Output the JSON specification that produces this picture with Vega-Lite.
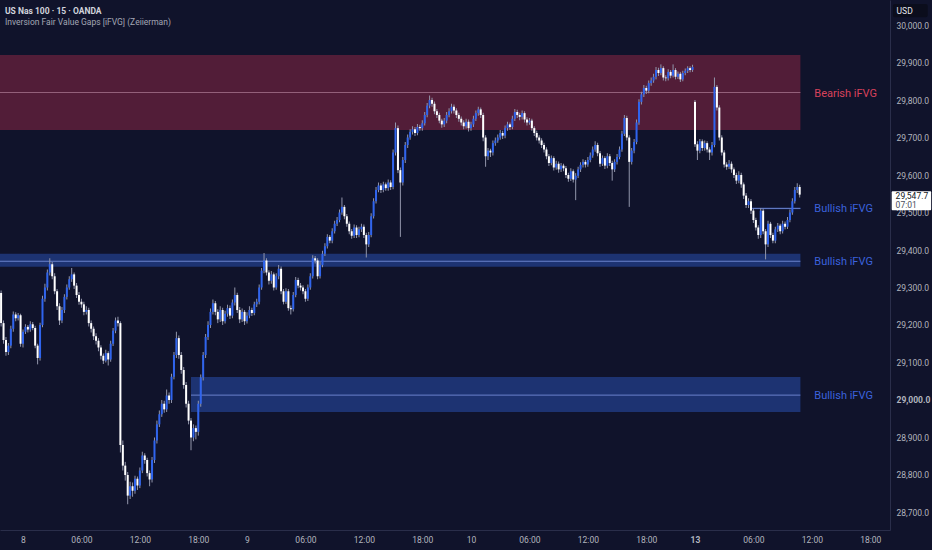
{
  "$schema": "https://vega.github.io/schema/vega-lite/v6.json",
  "description": "US Nas 100, 15 minute candles with inversion fair value gap zones.",
  "width": 890,
  "height": 530,
  "autosize": {"type": "none"},
  "padding": {"left": 0, "top": 0, "right": 42, "bottom": 20},
  "background": "#10132b",
  "config": {
    "view": {"stroke": null},
    "font": "Roboto",
    "axis": {
      "grid": false,
      "ticks": false,
      "domainColor": "#2a2e4a",
      "labelColor": "#b2b5be",
      "labelFontSize": 8.5,
      "title": null
    }
  },
  "datasets": {
    "zones": [
      {"zone": "Bearish iFVG", "kind": "bear", "start": -9.5, "end": 319.3, "top": 29920, "bottom": 29720, "mid": 29820},
      {"zone": "Bullish iFVG", "kind": "bull", "start": 299.5, "end": 319.3, "top": 29513, "bottom": 29509, "mid": 29511},
      {"zone": "Bullish iFVG", "kind": "bull", "start": -9.5, "end": 319.3, "top": 29390, "bottom": 29355, "mid": 29370},
      {"zone": "Bullish iFVG", "kind": "bull", "start": 69, "end": 319.3, "top": 29061, "bottom": 28968, "mid": 29013}
    ],
    "candles": [
      {"n": -9, "o": 29285, "h": 29292, "l": 29196, "c": 29205},
      {"n": -8, "o": 29205, "h": 29212, "l": 29150, "c": 29160},
      {"n": -7, "o": 29160, "h": 29168, "l": 29118, "c": 29128},
      {"n": -6, "o": 29128, "h": 29152, "l": 29120, "c": 29145},
      {"n": -5, "o": 29145, "h": 29198, "l": 29138, "c": 29190},
      {"n": -4, "o": 29190, "h": 29236, "l": 29182, "c": 29228},
      {"n": -3, "o": 29228, "h": 29234, "l": 29210, "c": 29218},
      {"n": -2, "o": 29218, "h": 29232, "l": 29212, "c": 29226},
      {"n": -1, "o": 29226, "h": 29230, "l": 29142, "c": 29150},
      {"n": 0, "o": 29150, "h": 29188, "l": 29140, "c": 29182},
      {"n": 1, "o": 29182, "h": 29202, "l": 29176, "c": 29195},
      {"n": 2, "o": 29195, "h": 29200, "l": 29180, "c": 29188},
      {"n": 3, "o": 29188, "h": 29210, "l": 29182, "c": 29202},
      {"n": 4, "o": 29202, "h": 29208, "l": 29186, "c": 29192},
      {"n": 5, "o": 29192, "h": 29198, "l": 29138, "c": 29145},
      {"n": 6, "o": 29145, "h": 29150, "l": 29095, "c": 29112},
      {"n": 7, "o": 29112, "h": 29206, "l": 29105, "c": 29200},
      {"n": 8, "o": 29200, "h": 29278, "l": 29194, "c": 29270},
      {"n": 9, "o": 29270, "h": 29310, "l": 29262, "c": 29300},
      {"n": 10, "o": 29300, "h": 29348, "l": 29292, "c": 29340},
      {"n": 11, "o": 29340, "h": 29378, "l": 29332, "c": 29362},
      {"n": 12, "o": 29362, "h": 29368, "l": 29322, "c": 29330},
      {"n": 13, "o": 29330, "h": 29338, "l": 29282, "c": 29290},
      {"n": 14, "o": 29290, "h": 29296, "l": 29240, "c": 29250},
      {"n": 15, "o": 29250, "h": 29258, "l": 29200, "c": 29212},
      {"n": 16, "o": 29212, "h": 29248, "l": 29205, "c": 29240},
      {"n": 17, "o": 29240, "h": 29282, "l": 29232, "c": 29275},
      {"n": 18, "o": 29275, "h": 29308, "l": 29268, "c": 29300},
      {"n": 19, "o": 29300, "h": 29330, "l": 29294, "c": 29322},
      {"n": 20, "o": 29322, "h": 29352, "l": 29315, "c": 29335},
      {"n": 21, "o": 29335, "h": 29340, "l": 29296, "c": 29305},
      {"n": 22, "o": 29305, "h": 29312, "l": 29272, "c": 29280},
      {"n": 23, "o": 29280, "h": 29288, "l": 29254, "c": 29262},
      {"n": 24, "o": 29262, "h": 29270, "l": 29246, "c": 29255},
      {"n": 25, "o": 29255, "h": 29262, "l": 29226, "c": 29235},
      {"n": 26, "o": 29235, "h": 29250, "l": 29228, "c": 29240},
      {"n": 27, "o": 29240, "h": 29246, "l": 29196, "c": 29205},
      {"n": 28, "o": 29205, "h": 29212, "l": 29180, "c": 29190},
      {"n": 29, "o": 29190, "h": 29196, "l": 29160, "c": 29170},
      {"n": 30, "o": 29170, "h": 29178, "l": 29148, "c": 29158},
      {"n": 31, "o": 29158, "h": 29165, "l": 29130, "c": 29140},
      {"n": 32, "o": 29140, "h": 29146, "l": 29108, "c": 29118},
      {"n": 33, "o": 29118, "h": 29124, "l": 29096, "c": 29105},
      {"n": 34, "o": 29105, "h": 29134, "l": 29100, "c": 29125},
      {"n": 35, "o": 29125, "h": 29130, "l": 29092, "c": 29108},
      {"n": 36, "o": 29108, "h": 29158, "l": 29102, "c": 29150},
      {"n": 37, "o": 29150, "h": 29192, "l": 29144, "c": 29185},
      {"n": 38, "o": 29185, "h": 29220, "l": 29178, "c": 29212},
      {"n": 39, "o": 29212, "h": 29222, "l": 29196, "c": 29205},
      {"n": 40, "o": 29205, "h": 29210, "l": 28860, "c": 28880},
      {"n": 41, "o": 28880, "h": 28892, "l": 28812, "c": 28825},
      {"n": 42, "o": 28825, "h": 28835, "l": 28785, "c": 28800},
      {"n": 43, "o": 28800, "h": 28808, "l": 28722, "c": 28745},
      {"n": 44, "o": 28745, "h": 28782, "l": 28736, "c": 28770},
      {"n": 45, "o": 28770, "h": 28780, "l": 28742, "c": 28758},
      {"n": 46, "o": 28758, "h": 28798, "l": 28750, "c": 28790},
      {"n": 47, "o": 28790, "h": 28796, "l": 28760, "c": 28772},
      {"n": 48, "o": 28772, "h": 28820, "l": 28765, "c": 28812},
      {"n": 49, "o": 28812, "h": 28862, "l": 28805, "c": 28852},
      {"n": 50, "o": 28852, "h": 28858, "l": 28830, "c": 28840},
      {"n": 51, "o": 28840, "h": 28846, "l": 28796, "c": 28805},
      {"n": 52, "o": 28805, "h": 28812, "l": 28770, "c": 28788},
      {"n": 53, "o": 28788, "h": 28848, "l": 28780, "c": 28840},
      {"n": 54, "o": 28840, "h": 28900, "l": 28832, "c": 28892},
      {"n": 55, "o": 28892, "h": 28945, "l": 28884, "c": 28935},
      {"n": 56, "o": 28935, "h": 28972, "l": 28928, "c": 28962},
      {"n": 57, "o": 28962, "h": 29000, "l": 28955, "c": 28990},
      {"n": 58, "o": 28990, "h": 28998, "l": 28966, "c": 28975},
      {"n": 59, "o": 28975, "h": 29028, "l": 28968, "c": 29012},
      {"n": 60, "o": 29012, "h": 29020, "l": 28990, "c": 29000},
      {"n": 61, "o": 29000, "h": 29070, "l": 28992, "c": 29062},
      {"n": 62, "o": 29062, "h": 29128, "l": 29055, "c": 29120},
      {"n": 63, "o": 29120, "h": 29182, "l": 29112, "c": 29165},
      {"n": 64, "o": 29165, "h": 29172, "l": 29110, "c": 29120},
      {"n": 65, "o": 29120, "h": 29128, "l": 29070, "c": 29080},
      {"n": 66, "o": 29080, "h": 29088, "l": 29030, "c": 29040},
      {"n": 67, "o": 29040, "h": 29048, "l": 28980, "c": 28990},
      {"n": 68, "o": 28990, "h": 28998, "l": 28935, "c": 28945},
      {"n": 69, "o": 28945, "h": 28952, "l": 28866, "c": 28900},
      {"n": 70, "o": 28900, "h": 28935, "l": 28890, "c": 28925},
      {"n": 71, "o": 28925, "h": 28932, "l": 28895, "c": 28915},
      {"n": 72, "o": 28915, "h": 28998, "l": 28905, "c": 28990},
      {"n": 73, "o": 28990, "h": 29068, "l": 28982, "c": 29060},
      {"n": 74, "o": 29060, "h": 29128, "l": 29052, "c": 29120},
      {"n": 75, "o": 29120, "h": 29176, "l": 29112, "c": 29168},
      {"n": 76, "o": 29168, "h": 29210, "l": 29160, "c": 29200},
      {"n": 77, "o": 29200, "h": 29244, "l": 29192, "c": 29235},
      {"n": 78, "o": 29235, "h": 29268, "l": 29228, "c": 29258},
      {"n": 79, "o": 29258, "h": 29264, "l": 29226, "c": 29235},
      {"n": 80, "o": 29235, "h": 29242, "l": 29205, "c": 29215},
      {"n": 81, "o": 29215, "h": 29250, "l": 29208, "c": 29240},
      {"n": 82, "o": 29240, "h": 29246, "l": 29200, "c": 29210},
      {"n": 83, "o": 29210, "h": 29238, "l": 29204, "c": 29230},
      {"n": 84, "o": 29230, "h": 29254, "l": 29222, "c": 29245},
      {"n": 85, "o": 29245, "h": 29252, "l": 29216, "c": 29225},
      {"n": 86, "o": 29225, "h": 29268, "l": 29218, "c": 29260},
      {"n": 87, "o": 29260, "h": 29300, "l": 29252, "c": 29280},
      {"n": 88, "o": 29280, "h": 29286, "l": 29232, "c": 29240},
      {"n": 89, "o": 29240, "h": 29248, "l": 29205, "c": 29215},
      {"n": 90, "o": 29215, "h": 29244, "l": 29208, "c": 29235},
      {"n": 91, "o": 29235, "h": 29240, "l": 29200, "c": 29210},
      {"n": 92, "o": 29210, "h": 29234, "l": 29204, "c": 29225},
      {"n": 93, "o": 29225, "h": 29250, "l": 29218, "c": 29240},
      {"n": 94, "o": 29240, "h": 29246, "l": 29224, "c": 29232},
      {"n": 95, "o": 29232, "h": 29262, "l": 29226, "c": 29255},
      {"n": 96, "o": 29255, "h": 29270, "l": 29248, "c": 29262},
      {"n": 97, "o": 29262, "h": 29308, "l": 29255, "c": 29300},
      {"n": 98, "o": 29300, "h": 29352, "l": 29294, "c": 29345},
      {"n": 99, "o": 29345, "h": 29392, "l": 29338, "c": 29372},
      {"n": 100, "o": 29372, "h": 29378, "l": 29332, "c": 29340},
      {"n": 101, "o": 29340, "h": 29346, "l": 29308, "c": 29318},
      {"n": 102, "o": 29318, "h": 29344, "l": 29310, "c": 29335},
      {"n": 103, "o": 29335, "h": 29340, "l": 29292, "c": 29300},
      {"n": 104, "o": 29300, "h": 29338, "l": 29294, "c": 29330},
      {"n": 105, "o": 29330, "h": 29360, "l": 29322, "c": 29350},
      {"n": 106, "o": 29350, "h": 29356, "l": 29282, "c": 29290},
      {"n": 107, "o": 29290, "h": 29296, "l": 29255, "c": 29262},
      {"n": 108, "o": 29262, "h": 29298, "l": 29256, "c": 29290},
      {"n": 109, "o": 29290, "h": 29296, "l": 29238, "c": 29245},
      {"n": 110, "o": 29245, "h": 29252, "l": 29228, "c": 29242},
      {"n": 111, "o": 29242, "h": 29288, "l": 29236, "c": 29280},
      {"n": 112, "o": 29280, "h": 29328, "l": 29274, "c": 29320},
      {"n": 113, "o": 29320, "h": 29326, "l": 29298, "c": 29305},
      {"n": 114, "o": 29305, "h": 29312, "l": 29292, "c": 29300},
      {"n": 115, "o": 29300, "h": 29306, "l": 29282, "c": 29290},
      {"n": 116, "o": 29290, "h": 29296, "l": 29262, "c": 29270},
      {"n": 117, "o": 29270, "h": 29308, "l": 29264, "c": 29300},
      {"n": 118, "o": 29300, "h": 29338, "l": 29294, "c": 29330},
      {"n": 119, "o": 29330, "h": 29386, "l": 29324, "c": 29378},
      {"n": 120, "o": 29378, "h": 29384, "l": 29364, "c": 29372},
      {"n": 121, "o": 29372, "h": 29378, "l": 29322, "c": 29330},
      {"n": 122, "o": 29330, "h": 29368, "l": 29324, "c": 29360},
      {"n": 123, "o": 29360, "h": 29398, "l": 29354, "c": 29390},
      {"n": 124, "o": 29390, "h": 29418, "l": 29384, "c": 29410},
      {"n": 125, "o": 29410, "h": 29442, "l": 29404, "c": 29435},
      {"n": 126, "o": 29435, "h": 29440, "l": 29418, "c": 29425},
      {"n": 127, "o": 29425, "h": 29458, "l": 29418, "c": 29450},
      {"n": 128, "o": 29450, "h": 29478, "l": 29444, "c": 29470},
      {"n": 129, "o": 29470, "h": 29488, "l": 29464, "c": 29480},
      {"n": 130, "o": 29480, "h": 29508, "l": 29474, "c": 29500},
      {"n": 131, "o": 29500, "h": 29540, "l": 29494, "c": 29515},
      {"n": 132, "o": 29515, "h": 29520, "l": 29482, "c": 29490},
      {"n": 133, "o": 29490, "h": 29496, "l": 29462, "c": 29470},
      {"n": 134, "o": 29470, "h": 29476, "l": 29442, "c": 29450},
      {"n": 135, "o": 29450, "h": 29456, "l": 29430, "c": 29438},
      {"n": 136, "o": 29438, "h": 29468, "l": 29432, "c": 29460},
      {"n": 137, "o": 29460, "h": 29466, "l": 29432, "c": 29440},
      {"n": 138, "o": 29440, "h": 29462, "l": 29434, "c": 29455},
      {"n": 139, "o": 29455, "h": 29470, "l": 29448, "c": 29462},
      {"n": 140, "o": 29462, "h": 29468, "l": 29432, "c": 29440},
      {"n": 141, "o": 29440, "h": 29446, "l": 29380, "c": 29415},
      {"n": 142, "o": 29415, "h": 29448, "l": 29408, "c": 29440},
      {"n": 143, "o": 29440, "h": 29498, "l": 29434, "c": 29490},
      {"n": 144, "o": 29490, "h": 29538, "l": 29484, "c": 29530},
      {"n": 145, "o": 29530, "h": 29568, "l": 29524, "c": 29560},
      {"n": 146, "o": 29560, "h": 29580, "l": 29554, "c": 29572},
      {"n": 147, "o": 29572, "h": 29578, "l": 29552, "c": 29560},
      {"n": 148, "o": 29560, "h": 29582, "l": 29554, "c": 29575},
      {"n": 149, "o": 29575, "h": 29580, "l": 29558, "c": 29565},
      {"n": 150, "o": 29565, "h": 29588, "l": 29558, "c": 29580},
      {"n": 151, "o": 29580, "h": 29586, "l": 29560, "c": 29568},
      {"n": 152, "o": 29568, "h": 29668, "l": 29562, "c": 29660},
      {"n": 153, "o": 29660, "h": 29740, "l": 29652, "c": 29725},
      {"n": 154, "o": 29725, "h": 29732, "l": 29605, "c": 29613},
      {"n": 155, "o": 29613, "h": 29620, "l": 29435, "c": 29580},
      {"n": 156, "o": 29580, "h": 29648, "l": 29572, "c": 29640},
      {"n": 157, "o": 29640, "h": 29688, "l": 29632, "c": 29680},
      {"n": 158, "o": 29680, "h": 29708, "l": 29672, "c": 29700},
      {"n": 159, "o": 29700, "h": 29722, "l": 29694, "c": 29715},
      {"n": 160, "o": 29715, "h": 29730, "l": 29708, "c": 29722},
      {"n": 161, "o": 29722, "h": 29728, "l": 29704, "c": 29712},
      {"n": 162, "o": 29712, "h": 29736, "l": 29706, "c": 29728},
      {"n": 163, "o": 29728, "h": 29734, "l": 29718, "c": 29725},
      {"n": 164, "o": 29725, "h": 29746, "l": 29718, "c": 29738},
      {"n": 165, "o": 29738, "h": 29768, "l": 29732, "c": 29760},
      {"n": 166, "o": 29760, "h": 29792, "l": 29754, "c": 29785},
      {"n": 167, "o": 29785, "h": 29812, "l": 29778, "c": 29800},
      {"n": 168, "o": 29800, "h": 29806, "l": 29782, "c": 29790},
      {"n": 169, "o": 29790, "h": 29796, "l": 29762, "c": 29770},
      {"n": 170, "o": 29770, "h": 29776, "l": 29752, "c": 29760},
      {"n": 171, "o": 29760, "h": 29766, "l": 29738, "c": 29745},
      {"n": 172, "o": 29745, "h": 29750, "l": 29726, "c": 29735},
      {"n": 173, "o": 29735, "h": 29752, "l": 29728, "c": 29745},
      {"n": 174, "o": 29745, "h": 29768, "l": 29738, "c": 29760},
      {"n": 175, "o": 29760, "h": 29778, "l": 29754, "c": 29770},
      {"n": 176, "o": 29770, "h": 29790, "l": 29764, "c": 29782},
      {"n": 177, "o": 29782, "h": 29788, "l": 29764, "c": 29772},
      {"n": 178, "o": 29772, "h": 29778, "l": 29752, "c": 29760},
      {"n": 179, "o": 29760, "h": 29766, "l": 29742, "c": 29750},
      {"n": 180, "o": 29750, "h": 29756, "l": 29732, "c": 29740},
      {"n": 181, "o": 29740, "h": 29746, "l": 29722, "c": 29730},
      {"n": 182, "o": 29730, "h": 29750, "l": 29724, "c": 29742},
      {"n": 183, "o": 29742, "h": 29748, "l": 29716, "c": 29725},
      {"n": 184, "o": 29725, "h": 29742, "l": 29718, "c": 29735},
      {"n": 185, "o": 29735, "h": 29758, "l": 29728, "c": 29750},
      {"n": 186, "o": 29750, "h": 29772, "l": 29744, "c": 29765},
      {"n": 187, "o": 29765, "h": 29782, "l": 29758, "c": 29775},
      {"n": 188, "o": 29775, "h": 29780, "l": 29752, "c": 29760},
      {"n": 189, "o": 29760, "h": 29766, "l": 29690, "c": 29700},
      {"n": 190, "o": 29700, "h": 29706, "l": 29622, "c": 29650},
      {"n": 191, "o": 29650, "h": 29672, "l": 29640, "c": 29665},
      {"n": 192, "o": 29665, "h": 29670, "l": 29648, "c": 29660},
      {"n": 193, "o": 29660, "h": 29692, "l": 29652, "c": 29685},
      {"n": 194, "o": 29685, "h": 29700, "l": 29678, "c": 29692},
      {"n": 195, "o": 29692, "h": 29708, "l": 29686, "c": 29700},
      {"n": 196, "o": 29700, "h": 29720, "l": 29694, "c": 29712},
      {"n": 197, "o": 29712, "h": 29718, "l": 29696, "c": 29705},
      {"n": 198, "o": 29705, "h": 29732, "l": 29698, "c": 29725},
      {"n": 199, "o": 29725, "h": 29742, "l": 29718, "c": 29735},
      {"n": 200, "o": 29735, "h": 29740, "l": 29720, "c": 29728},
      {"n": 201, "o": 29728, "h": 29758, "l": 29722, "c": 29750},
      {"n": 202, "o": 29750, "h": 29776, "l": 29744, "c": 29768},
      {"n": 203, "o": 29768, "h": 29774, "l": 29752, "c": 29760},
      {"n": 204, "o": 29760, "h": 29766, "l": 29746, "c": 29755},
      {"n": 205, "o": 29755, "h": 29772, "l": 29748, "c": 29765},
      {"n": 206, "o": 29765, "h": 29770, "l": 29740, "c": 29748},
      {"n": 207, "o": 29748, "h": 29754, "l": 29732, "c": 29740},
      {"n": 208, "o": 29740, "h": 29752, "l": 29734, "c": 29745},
      {"n": 209, "o": 29745, "h": 29750, "l": 29718, "c": 29725},
      {"n": 210, "o": 29725, "h": 29730, "l": 29704, "c": 29712},
      {"n": 211, "o": 29712, "h": 29718, "l": 29692, "c": 29700},
      {"n": 212, "o": 29700, "h": 29706, "l": 29684, "c": 29692},
      {"n": 213, "o": 29692, "h": 29698, "l": 29672, "c": 29680},
      {"n": 214, "o": 29680, "h": 29686, "l": 29660, "c": 29668},
      {"n": 215, "o": 29668, "h": 29674, "l": 29642, "c": 29650},
      {"n": 216, "o": 29650, "h": 29656, "l": 29624, "c": 29632},
      {"n": 217, "o": 29632, "h": 29652, "l": 29626, "c": 29645},
      {"n": 218, "o": 29645, "h": 29650, "l": 29612, "c": 29620},
      {"n": 219, "o": 29620, "h": 29638, "l": 29614, "c": 29630},
      {"n": 220, "o": 29630, "h": 29636, "l": 29606, "c": 29615},
      {"n": 221, "o": 29615, "h": 29632, "l": 29608, "c": 29625},
      {"n": 222, "o": 29625, "h": 29630, "l": 29610, "c": 29618},
      {"n": 223, "o": 29618, "h": 29624, "l": 29592, "c": 29600},
      {"n": 224, "o": 29600, "h": 29606, "l": 29582, "c": 29590},
      {"n": 225, "o": 29590, "h": 29618, "l": 29584, "c": 29610},
      {"n": 226, "o": 29610, "h": 29615, "l": 29580, "c": 29588},
      {"n": 227, "o": 29588, "h": 29605, "l": 29533, "c": 29598},
      {"n": 228, "o": 29598, "h": 29622, "l": 29592, "c": 29615},
      {"n": 229, "o": 29615, "h": 29634, "l": 29608, "c": 29627},
      {"n": 230, "o": 29627, "h": 29642, "l": 29620, "c": 29635},
      {"n": 231, "o": 29635, "h": 29640, "l": 29620, "c": 29628},
      {"n": 232, "o": 29628, "h": 29648, "l": 29622, "c": 29640},
      {"n": 233, "o": 29640, "h": 29660, "l": 29634, "c": 29652},
      {"n": 234, "o": 29652, "h": 29676, "l": 29646, "c": 29668},
      {"n": 235, "o": 29668, "h": 29690, "l": 29662, "c": 29680},
      {"n": 236, "o": 29680, "h": 29686, "l": 29650, "c": 29658},
      {"n": 237, "o": 29658, "h": 29664, "l": 29622, "c": 29630},
      {"n": 238, "o": 29630, "h": 29652, "l": 29624, "c": 29645},
      {"n": 239, "o": 29645, "h": 29650, "l": 29616, "c": 29625},
      {"n": 240, "o": 29625, "h": 29658, "l": 29618, "c": 29650},
      {"n": 241, "o": 29650, "h": 29656, "l": 29624, "c": 29632},
      {"n": 242, "o": 29632, "h": 29638, "l": 29585, "c": 29615},
      {"n": 243, "o": 29615, "h": 29642, "l": 29608, "c": 29635},
      {"n": 244, "o": 29635, "h": 29656, "l": 29628, "c": 29648},
      {"n": 245, "o": 29648, "h": 29676, "l": 29642, "c": 29668},
      {"n": 246, "o": 29668, "h": 29718, "l": 29662, "c": 29710},
      {"n": 247, "o": 29710, "h": 29760, "l": 29704, "c": 29752},
      {"n": 248, "o": 29752, "h": 29758, "l": 29692, "c": 29700},
      {"n": 249, "o": 29700, "h": 29706, "l": 29515, "c": 29635},
      {"n": 250, "o": 29635, "h": 29672, "l": 29628, "c": 29665},
      {"n": 251, "o": 29665, "h": 29696, "l": 29658, "c": 29688},
      {"n": 252, "o": 29688, "h": 29748, "l": 29682, "c": 29740},
      {"n": 253, "o": 29740, "h": 29802, "l": 29734, "c": 29795},
      {"n": 254, "o": 29795, "h": 29822, "l": 29788, "c": 29815},
      {"n": 255, "o": 29815, "h": 29840, "l": 29808, "c": 29832},
      {"n": 256, "o": 29832, "h": 29838, "l": 29816, "c": 29825},
      {"n": 257, "o": 29825, "h": 29852, "l": 29818, "c": 29845},
      {"n": 258, "o": 29845, "h": 29860, "l": 29838, "c": 29852},
      {"n": 259, "o": 29852, "h": 29870, "l": 29846, "c": 29862},
      {"n": 260, "o": 29862, "h": 29888, "l": 29855, "c": 29880},
      {"n": 261, "o": 29880, "h": 29886, "l": 29864, "c": 29872},
      {"n": 262, "o": 29872, "h": 29895, "l": 29866, "c": 29885},
      {"n": 263, "o": 29885, "h": 29890, "l": 29852, "c": 29860},
      {"n": 264, "o": 29860, "h": 29866, "l": 29850, "c": 29858},
      {"n": 265, "o": 29858, "h": 29882, "l": 29852, "c": 29875},
      {"n": 266, "o": 29875, "h": 29880, "l": 29858, "c": 29865},
      {"n": 267, "o": 29865, "h": 29895, "l": 29860, "c": 29880},
      {"n": 268, "o": 29880, "h": 29885, "l": 29855, "c": 29862},
      {"n": 269, "o": 29862, "h": 29876, "l": 29856, "c": 29870},
      {"n": 270, "o": 29870, "h": 29875, "l": 29848, "c": 29855},
      {"n": 271, "o": 29855, "h": 29878, "l": 29850, "c": 29872},
      {"n": 272, "o": 29872, "h": 29884, "l": 29866, "c": 29878},
      {"n": 273, "o": 29878, "h": 29890, "l": 29872, "c": 29885},
      {"n": 274, "o": 29885, "h": 29890, "l": 29874, "c": 29880},
      {"n": 275, "o": 29880, "h": 29894, "l": 29875, "c": 29888},
      {"n": 276, "o": 29795, "h": 29800, "l": 29675, "c": 29682},
      {"n": 277, "o": 29682, "h": 29690, "l": 29640, "c": 29665},
      {"n": 278, "o": 29665, "h": 29696, "l": 29658, "c": 29690},
      {"n": 279, "o": 29690, "h": 29695, "l": 29664, "c": 29672},
      {"n": 280, "o": 29672, "h": 29692, "l": 29665, "c": 29685},
      {"n": 281, "o": 29685, "h": 29690, "l": 29660, "c": 29668},
      {"n": 282, "o": 29668, "h": 29674, "l": 29640, "c": 29660},
      {"n": 283, "o": 29660, "h": 29688, "l": 29652, "c": 29680},
      {"n": 284, "o": 29680, "h": 29860, "l": 29674, "c": 29835},
      {"n": 285, "o": 29835, "h": 29840, "l": 29772, "c": 29780},
      {"n": 286, "o": 29780, "h": 29786, "l": 29692, "c": 29700},
      {"n": 287, "o": 29700, "h": 29706, "l": 29652, "c": 29660},
      {"n": 288, "o": 29660, "h": 29666, "l": 29620, "c": 29628},
      {"n": 289, "o": 29628, "h": 29634, "l": 29614, "c": 29622},
      {"n": 290, "o": 29622, "h": 29640, "l": 29616, "c": 29630},
      {"n": 291, "o": 29630, "h": 29636, "l": 29606, "c": 29615},
      {"n": 292, "o": 29615, "h": 29620, "l": 29592, "c": 29600},
      {"n": 293, "o": 29600, "h": 29606, "l": 29576, "c": 29585},
      {"n": 294, "o": 29585, "h": 29610, "l": 29578, "c": 29600},
      {"n": 295, "o": 29600, "h": 29606, "l": 29566, "c": 29575},
      {"n": 296, "o": 29575, "h": 29580, "l": 29536, "c": 29545},
      {"n": 297, "o": 29545, "h": 29552, "l": 29512, "c": 29520},
      {"n": 298, "o": 29520, "h": 29538, "l": 29512, "c": 29530},
      {"n": 299, "o": 29530, "h": 29536, "l": 29496, "c": 29505},
      {"n": 300, "o": 29505, "h": 29510, "l": 29472, "c": 29480},
      {"n": 301, "o": 29480, "h": 29486, "l": 29452, "c": 29460},
      {"n": 302, "o": 29460, "h": 29466, "l": 29430, "c": 29440},
      {"n": 303, "o": 29440, "h": 29512, "l": 29432, "c": 29505},
      {"n": 304, "o": 29505, "h": 29510, "l": 29442, "c": 29450},
      {"n": 305, "o": 29450, "h": 29456, "l": 29375, "c": 29415},
      {"n": 306, "o": 29415, "h": 29478, "l": 29408, "c": 29470},
      {"n": 307, "o": 29470, "h": 29475, "l": 29432, "c": 29440},
      {"n": 308, "o": 29440, "h": 29446, "l": 29418, "c": 29425},
      {"n": 309, "o": 29425, "h": 29462, "l": 29418, "c": 29455},
      {"n": 310, "o": 29455, "h": 29472, "l": 29448, "c": 29465},
      {"n": 311, "o": 29465, "h": 29470, "l": 29442, "c": 29450},
      {"n": 312, "o": 29450, "h": 29478, "l": 29444, "c": 29470},
      {"n": 313, "o": 29470, "h": 29476, "l": 29455, "c": 29462},
      {"n": 314, "o": 29462, "h": 29488, "l": 29456, "c": 29480},
      {"n": 315, "o": 29480, "h": 29508, "l": 29474, "c": 29500},
      {"n": 316, "o": 29500, "h": 29538, "l": 29494, "c": 29530},
      {"n": 317, "o": 29530, "h": 29568, "l": 29524, "c": 29560},
      {"n": 318, "o": 29560, "h": 29578, "l": 29552, "c": 29568},
      {"n": 319, "o": 29568, "h": 29574, "l": 29540, "c": 29547.7}
    ]
  },
  "layer": [
    {
      "data": {"name": "zones"},
      "mark": {"type": "rect"},
      "encoding": {
        "x": {
          "field": "start",
          "type": "quantitative",
          "scale": {"domain": [-9.45, 356.1], "nice": false, "zero": false, "padding": 0},
          "axis": {
            "orient": "bottom",
            "values": [0, 24, 48, 72, 92, 116, 140, 164, 184, 208, 232, 256, 276, 300, 324, 348],
            "labelExpr": "datum.value % 92 == 0 ? ['8', '9', '10', '13'][floor(datum.value / 92)] : ['06:00', '12:00', '18:00'][floor((datum.value % 92) / 24) - 1]",
            "labelPadding": 5,
            "labelFontWeight": {"condition": {"test": "datum.value == 276", "value": "bold"}, "value": "normal"},
            "labelFlush": false
          }
        },
        "x2": {"field": "end"},
        "y": {
          "field": "top",
          "type": "quantitative",
          "scale": {"domain": [28653.3, 30066.7], "nice": false, "zero": false, "padding": 0},
          "axis": {
            "orient": "right",
            "values": [28700, 28800, 28900, 29000, 29100, 29200, 29300, 29400, 29500, 29600, 29700, 29800, 29900, 30000],
            "format": ",.1f",
            "labelAlign": "left",
            "labelPadding": 6,
            "labelFontWeight": {"condition": {"test": "datum.value == 29000", "value": "bold"}, "value": "normal"},
            "labelFlush": false
          }
        },
        "y2": {"field": "bottom"},
        "color": {"condition": {"test": "datum.kind == 'bear'", "value": "#521d38"}, "value": "#1d3372"}
      }
    },
    {
      "data": {"name": "zones"},
      "mark": {"type": "rule", "strokeWidth": 1},
      "encoding": {
        "x": {"field": "start", "type": "quantitative"},
        "x2": {"field": "end"},
        "y": {"field": "mid", "type": "quantitative"},
        "color": {"condition": {"test": "datum.kind == 'bear'", "value": "#93607a"}, "value": "#6a82cc"}
      }
    },
    {
      "data": {"name": "candles"},
      "mark": {"type": "rule", "strokeWidth": 1, "color": "#9296ab"},
      "encoding": {
        "x": {"field": "n", "type": "quantitative"},
        "y": {"field": "l", "type": "quantitative"},
        "y2": {"field": "h"}
      }
    },
    {
      "data": {"name": "candles"},
      "mark": {"type": "bar", "width": 2},
      "encoding": {
        "x": {"field": "n", "type": "quantitative"},
        "y": {"field": "o", "type": "quantitative"},
        "y2": {"field": "c"},
        "color": {"condition": {"test": "datum.c < datum.o", "value": "#ffffff"}, "value": "#2f64ee"}
      }
    },
    {
      "data": {"name": "zones"},
      "mark": {"type": "text", "align": "left", "baseline": "middle", "fontSize": 11, "dy": 1},
      "encoding": {
        "x": {"datum": 325},
        "y": {"field": "mid", "type": "quantitative"},
        "text": {"field": "zone"},
        "color": {"condition": {"test": "datum.kind == 'bear'", "value": "#d8425c"}, "value": "#3b62dc"}
      }
    },
    {
      "data": {"values": [{"line": "US Nas 100 · 15 · OANDA"}]},
      "mark": {"type": "text", "align": "left", "baseline": "middle", "fontSize": 8.5, "fontWeight": "bold", "color": "#d1d4dc"},
      "encoding": {
        "x": {"datum": -7.4},
        "y": {"datum": 30038},
        "text": {"field": "line"}
      }
    },
    {
      "data": {"values": [{"line": "Inversion Fair Value Gaps [iFVG] (Zeiierman)"}]},
      "mark": {"type": "text", "align": "left", "baseline": "middle", "fontSize": 8.5, "color": "#a3a6b4"},
      "encoding": {
        "x": {"datum": -7.4},
        "y": {"datum": 30008},
        "text": {"field": "line"}
      }
    },
    {
      "data": {"values": [{"tag": "USD"}]},
      "mark": {"type": "rect", "color": "#0b0d1c", "cornerRadius": 2},
      "encoding": {
        "x": {"datum": 357.3},
        "x2": {"datum": 371.6},
        "y": {"datum": 30056},
        "y2": {"datum": 30021}
      }
    },
    {
      "data": {"values": [{"tag": "USD"}]},
      "mark": {"type": "text", "align": "left", "baseline": "middle", "fontSize": 8.5, "color": "#e6e8ef"},
      "encoding": {
        "x": {"datum": 358.8},
        "y": {"datum": 30038},
        "text": {"field": "tag"}
      }
    },
    {
      "data": {"values": [{"price": "29,547.7", "timer": "07:01"}]},
      "mark": {"type": "rect", "color": "#ffffff", "cornerRadius": 1},
      "encoding": {
        "x": {"datum": 356.8},
        "x2": {"datum": 373},
        "y": {"datum": 29557},
        "y2": {"datum": 29506}
      }
    },
    {
      "data": {"values": [{"price": "29,547.7", "timer": "07:01"}]},
      "mark": {"type": "text", "align": "left", "baseline": "middle", "fontSize": 8.5, "color": "#131722"},
      "encoding": {
        "x": {"datum": 358.4},
        "y": {"datum": 29543},
        "text": {"field": "price"}
      }
    },
    {
      "data": {"values": [{"price": "29,547.7", "timer": "07:01"}]},
      "mark": {"type": "text", "align": "left", "baseline": "middle", "fontSize": 8.5, "color": "#4a4e5c"},
      "encoding": {
        "x": {"datum": 358.4},
        "y": {"datum": 29520},
        "text": {"field": "timer"}
      }
    }
  ]
}
